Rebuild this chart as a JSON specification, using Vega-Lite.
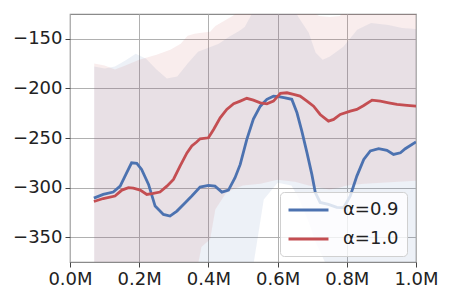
{
  "$schema": "https://vega.github.io/schema/vega-lite/v6.json",
  "width": 346,
  "height": 248,
  "autosize": {"type": "none"},
  "padding": {"left": 70, "top": 14, "right": 34, "bottom": 38},
  "background": "white",
  "config": {
    "font": "DejaVu Sans",
    "view": {"stroke": "#8a8a8a", "strokeWidth": 1.2},
    "axis": {
      "domain": false,
      "grid": true,
      "gridColor": "#b0b0b0",
      "gridWidth": 1,
      "tickColor": "#444444",
      "tickSize": 5,
      "tickWidth": 1,
      "labelFontSize": 18,
      "labelColor": "#222222",
      "labelPadding": 3,
      "labelFlush": false,
      "labelOverlap": false,
      "title": null
    },
    "legend": {
      "orient": "none",
      "legendX": 210,
      "legendY": 178,
      "symbolType": "M-2.22,0H2.22",
      "symbolSize": 324,
      "symbolStrokeWidth": 3,
      "symbolOffset": 10.5,
      "labelFontSize": 18,
      "labelColor": "#222222",
      "labelOffset": 24,
      "rowPadding": 9,
      "padding": 7.5,
      "fillColor": "rgba(255,255,255,0.8)",
      "strokeColor": "#d0d0d0",
      "cornerRadius": 4
    }
  },
  "datasets": {
    "bands": [
      {"series": "α=0.9", "x": 70000, "lo": -420, "hi": -178},
      {"series": "α=0.9", "x": 100000, "lo": -420, "hi": -180},
      {"series": "α=0.9", "x": 130000, "lo": -420, "hi": -178},
      {"series": "α=0.9", "x": 160000, "lo": -420, "hi": -172},
      {"series": "α=0.9", "x": 190000, "lo": -420, "hi": -165},
      {"series": "α=0.9", "x": 220000, "lo": -420, "hi": -170},
      {"series": "α=0.9", "x": 250000, "lo": -420, "hi": -181},
      {"series": "α=0.9", "x": 280000, "lo": -420, "hi": -190},
      {"series": "α=0.9", "x": 310000, "lo": -420, "hi": -188},
      {"series": "α=0.9", "x": 340000, "lo": -420, "hi": -175},
      {"series": "α=0.9", "x": 370000, "lo": -420, "hi": -163},
      {"series": "α=0.9", "x": 400000, "lo": -420, "hi": -159},
      {"series": "α=0.9", "x": 430000, "lo": -420, "hi": -155},
      {"series": "α=0.9", "x": 460000, "lo": -420, "hi": -148},
      {"series": "α=0.9", "x": 490000, "lo": -420, "hi": -142},
      {"series": "α=0.9", "x": 505000, "lo": -420, "hi": -138},
      {"series": "α=0.9", "x": 530000, "lo": -378, "hi": -122},
      {"series": "α=0.9", "x": 560000, "lo": -312, "hi": -112},
      {"series": "α=0.9", "x": 600000, "lo": -295, "hi": -105},
      {"series": "α=0.9", "x": 640000, "lo": -298, "hi": -115},
      {"series": "α=0.9", "x": 660000, "lo": -310, "hi": -128},
      {"series": "α=0.9", "x": 690000, "lo": -335, "hi": -144},
      {"series": "α=0.9", "x": 710000, "lo": -355, "hi": -164},
      {"series": "α=0.9", "x": 730000, "lo": -370, "hi": -171},
      {"series": "α=0.9", "x": 750000, "lo": -385, "hi": -168},
      {"series": "α=0.9", "x": 790000, "lo": -420, "hi": -158},
      {"series": "α=0.9", "x": 830000, "lo": -420, "hi": -141},
      {"series": "α=0.9", "x": 870000, "lo": -420, "hi": -134},
      {"series": "α=0.9", "x": 920000, "lo": -420, "hi": -136},
      {"series": "α=0.9", "x": 960000, "lo": -420, "hi": -139},
      {"series": "α=0.9", "x": 1000000, "lo": -420, "hi": -140},
      {"series": "α=1.0", "x": 70000, "lo": -420, "hi": -175},
      {"series": "α=1.0", "x": 100000, "lo": -420, "hi": -177},
      {"series": "α=1.0", "x": 130000, "lo": -420, "hi": -181},
      {"series": "α=1.0", "x": 160000, "lo": -420, "hi": -177},
      {"series": "α=1.0", "x": 200000, "lo": -420, "hi": -171},
      {"series": "α=1.0", "x": 250000, "lo": -420, "hi": -166},
      {"series": "α=1.0", "x": 290000, "lo": -420, "hi": -161},
      {"series": "α=1.0", "x": 320000, "lo": -420, "hi": -155},
      {"series": "α=1.0", "x": 340000, "lo": -420, "hi": -147},
      {"series": "α=1.0", "x": 360000, "lo": -395, "hi": -145},
      {"series": "α=1.0", "x": 380000, "lo": -360, "hi": -144},
      {"series": "α=1.0", "x": 405000, "lo": -352, "hi": -143},
      {"series": "α=1.0", "x": 420000, "lo": -322, "hi": -137},
      {"series": "α=1.0", "x": 450000, "lo": -306, "hi": -131},
      {"series": "α=1.0", "x": 470000, "lo": -302, "hi": -127},
      {"series": "α=1.0", "x": 500000, "lo": -298, "hi": -118},
      {"series": "α=1.0", "x": 550000, "lo": -296, "hi": -110},
      {"series": "α=1.0", "x": 600000, "lo": -292, "hi": -110},
      {"series": "α=1.0", "x": 650000, "lo": -294, "hi": -112},
      {"series": "α=1.0", "x": 690000, "lo": -298, "hi": -120},
      {"series": "α=1.0", "x": 720000, "lo": -300, "hi": -127},
      {"series": "α=1.0", "x": 750000, "lo": -302, "hi": -128},
      {"series": "α=1.0", "x": 780000, "lo": -300, "hi": -127},
      {"series": "α=1.0", "x": 800000, "lo": -298, "hi": -118},
      {"series": "α=1.0", "x": 850000, "lo": -296, "hi": -115},
      {"series": "α=1.0", "x": 900000, "lo": -295, "hi": -115},
      {"series": "α=1.0", "x": 950000, "lo": -294, "hi": -117},
      {"series": "α=1.0", "x": 1000000, "lo": -293, "hi": -118}
    ],
    "lines": [
      {"series": "α=0.9", "x": 69000, "y": -310.6},
      {"series": "α=0.9", "x": 96000, "y": -306.9},
      {"series": "α=0.9", "x": 125000, "y": -304.5},
      {"series": "α=0.9", "x": 145000, "y": -298.5},
      {"series": "α=0.9", "x": 164000, "y": -285},
      {"series": "α=0.9", "x": 178000, "y": -275},
      {"series": "α=0.9", "x": 193000, "y": -275.6},
      {"series": "α=0.9", "x": 207000, "y": -281.7},
      {"series": "α=0.9", "x": 227000, "y": -296.8},
      {"series": "α=0.9", "x": 246000, "y": -318.6},
      {"series": "α=0.9", "x": 270000, "y": -327},
      {"series": "α=0.9", "x": 289000, "y": -328.7},
      {"series": "α=0.9", "x": 309000, "y": -323.7},
      {"series": "α=0.9", "x": 333000, "y": -315.3},
      {"series": "α=0.9", "x": 352000, "y": -308.5},
      {"series": "α=0.9", "x": 376000, "y": -299.5},
      {"series": "α=0.9", "x": 400000, "y": -297.8},
      {"series": "α=0.9", "x": 419000, "y": -298.5},
      {"series": "α=0.9", "x": 439000, "y": -304.5},
      {"series": "α=0.9", "x": 458000, "y": -302.5},
      {"series": "α=0.9", "x": 477000, "y": -290},
      {"series": "α=0.9", "x": 492000, "y": -276.6},
      {"series": "α=0.9", "x": 511000, "y": -251.4},
      {"series": "α=0.9", "x": 530000, "y": -231},
      {"series": "α=0.9", "x": 550000, "y": -217.9},
      {"series": "α=0.9", "x": 569000, "y": -211},
      {"series": "α=0.9", "x": 588000, "y": -207.8},
      {"series": "α=0.9", "x": 603000, "y": -208.4},
      {"series": "α=0.9", "x": 622000, "y": -209.5},
      {"series": "α=0.9", "x": 641000, "y": -211},
      {"series": "α=0.9", "x": 656000, "y": -224.6},
      {"series": "α=0.9", "x": 670000, "y": -243},
      {"series": "α=0.9", "x": 685000, "y": -265},
      {"series": "α=0.9", "x": 699000, "y": -286.7},
      {"series": "α=0.9", "x": 709000, "y": -305},
      {"series": "α=0.9", "x": 723000, "y": -315},
      {"series": "α=0.9", "x": 747000, "y": -317},
      {"series": "α=0.9", "x": 771000, "y": -320},
      {"series": "α=0.9", "x": 791000, "y": -320.3},
      {"series": "α=0.9", "x": 810000, "y": -308.5},
      {"series": "α=0.9", "x": 829000, "y": -288.4},
      {"series": "α=0.9", "x": 849000, "y": -271.6},
      {"series": "α=0.9", "x": 868000, "y": -263},
      {"series": "α=0.9", "x": 892000, "y": -260.8},
      {"series": "α=0.9", "x": 916000, "y": -262.5},
      {"series": "α=0.9", "x": 935000, "y": -266.6},
      {"series": "α=0.9", "x": 955000, "y": -264.9},
      {"series": "α=0.9", "x": 969000, "y": -260.8},
      {"series": "α=0.9", "x": 1000000, "y": -254},
      {"series": "α=1.0", "x": 69000, "y": -314},
      {"series": "α=1.0", "x": 96000, "y": -311},
      {"series": "α=1.0", "x": 130000, "y": -308.5},
      {"series": "α=1.0", "x": 150000, "y": -302.5},
      {"series": "α=1.0", "x": 169000, "y": -300},
      {"series": "α=1.0", "x": 183000, "y": -300.5},
      {"series": "α=1.0", "x": 203000, "y": -302.5},
      {"series": "α=1.0", "x": 222000, "y": -306.9},
      {"series": "α=1.0", "x": 241000, "y": -305.9},
      {"series": "α=1.0", "x": 260000, "y": -304.5},
      {"series": "α=1.0", "x": 280000, "y": -298.5},
      {"series": "α=1.0", "x": 299000, "y": -291.8},
      {"series": "α=1.0", "x": 318000, "y": -278.3},
      {"series": "α=1.0", "x": 338000, "y": -265},
      {"series": "α=1.0", "x": 352000, "y": -258},
      {"series": "α=1.0", "x": 366000, "y": -254},
      {"series": "α=1.0", "x": 376000, "y": -250.8},
      {"series": "α=1.0", "x": 400000, "y": -249.8},
      {"series": "α=1.0", "x": 415000, "y": -241.4},
      {"series": "α=1.0", "x": 434000, "y": -229.6},
      {"series": "α=1.0", "x": 453000, "y": -221.2},
      {"series": "α=1.0", "x": 473000, "y": -215.5},
      {"series": "α=1.0", "x": 492000, "y": -212.8},
      {"series": "α=1.0", "x": 511000, "y": -210},
      {"series": "α=1.0", "x": 530000, "y": -211.8},
      {"series": "α=1.0", "x": 550000, "y": -214.5},
      {"series": "α=1.0", "x": 569000, "y": -215.5},
      {"series": "α=1.0", "x": 588000, "y": -212.8},
      {"series": "α=1.0", "x": 608000, "y": -205},
      {"series": "α=1.0", "x": 627000, "y": -204.4},
      {"series": "α=1.0", "x": 646000, "y": -206},
      {"series": "α=1.0", "x": 665000, "y": -207.8},
      {"series": "α=1.0", "x": 685000, "y": -212.8},
      {"series": "α=1.0", "x": 704000, "y": -217.9},
      {"series": "α=1.0", "x": 723000, "y": -226.3},
      {"series": "α=1.0", "x": 747000, "y": -233},
      {"series": "α=1.0", "x": 762000, "y": -231.3},
      {"series": "α=1.0", "x": 781000, "y": -226.3},
      {"series": "α=1.0", "x": 810000, "y": -222.9},
      {"series": "α=1.0", "x": 829000, "y": -221.2},
      {"series": "α=1.0", "x": 849000, "y": -217.2},
      {"series": "α=1.0", "x": 873000, "y": -211.8},
      {"series": "α=1.0", "x": 897000, "y": -212.8},
      {"series": "α=1.0", "x": 921000, "y": -214.5},
      {"series": "α=1.0", "x": 945000, "y": -216.2},
      {"series": "α=1.0", "x": 974000, "y": -217.2},
      {"series": "α=1.0", "x": 1000000, "y": -217.9}
    ]
  },
  "layer": [
    {
      "data": {"name": "bands"},
      "transform": [{"filter": "datum.series === 'α=0.9'"}],
      "mark": {"type": "area", "clip": true, "color": "#4c72b0", "opacity": 0.1},
      "encoding": {
        "x": {"field": "x", "type": "quantitative", "scale": {"domain": [0, 1000000]},
              "axis": {"values": [0, 200000, 400000, 600000, 800000, 1000000], "labelExpr": "format(datum.value/1000000, '.1f') + 'M'"}},
        "y": {"field": "lo", "type": "quantitative", "stack": null, "scale": {"domain": [-375, -125], "nice": false, "zero": false},
              "axis": {"values": [-350, -300, -250, -200, -150], "labelExpr": "'\u2212' + format(abs(datum.value), 'd')"}},
        "y2": {"field": "hi"}
      }
    },
    {
      "data": {"name": "bands"},
      "transform": [{"filter": "datum.series === 'α=1.0'"}],
      "mark": {"type": "area", "clip": true, "color": "#c44e52", "opacity": 0.1},
      "encoding": {
        "x": {"field": "x", "type": "quantitative"},
        "y": {"field": "lo", "type": "quantitative", "stack": null},
        "y2": {"field": "hi"}
      }
    },
    {
      "data": {"name": "lines"},
      "mark": {"type": "line", "clip": true, "strokeWidth": 2.8},
      "encoding": {
        "x": {"field": "x", "type": "quantitative"},
        "y": {"field": "y", "type": "quantitative"},
        "color": {"field": "series", "type": "nominal", "title": null,
                  "scale": {"domain": ["α=0.9", "α=1.0"], "range": ["#4c72b0", "#c44e52"]}}
      }
    }
  ]
}
